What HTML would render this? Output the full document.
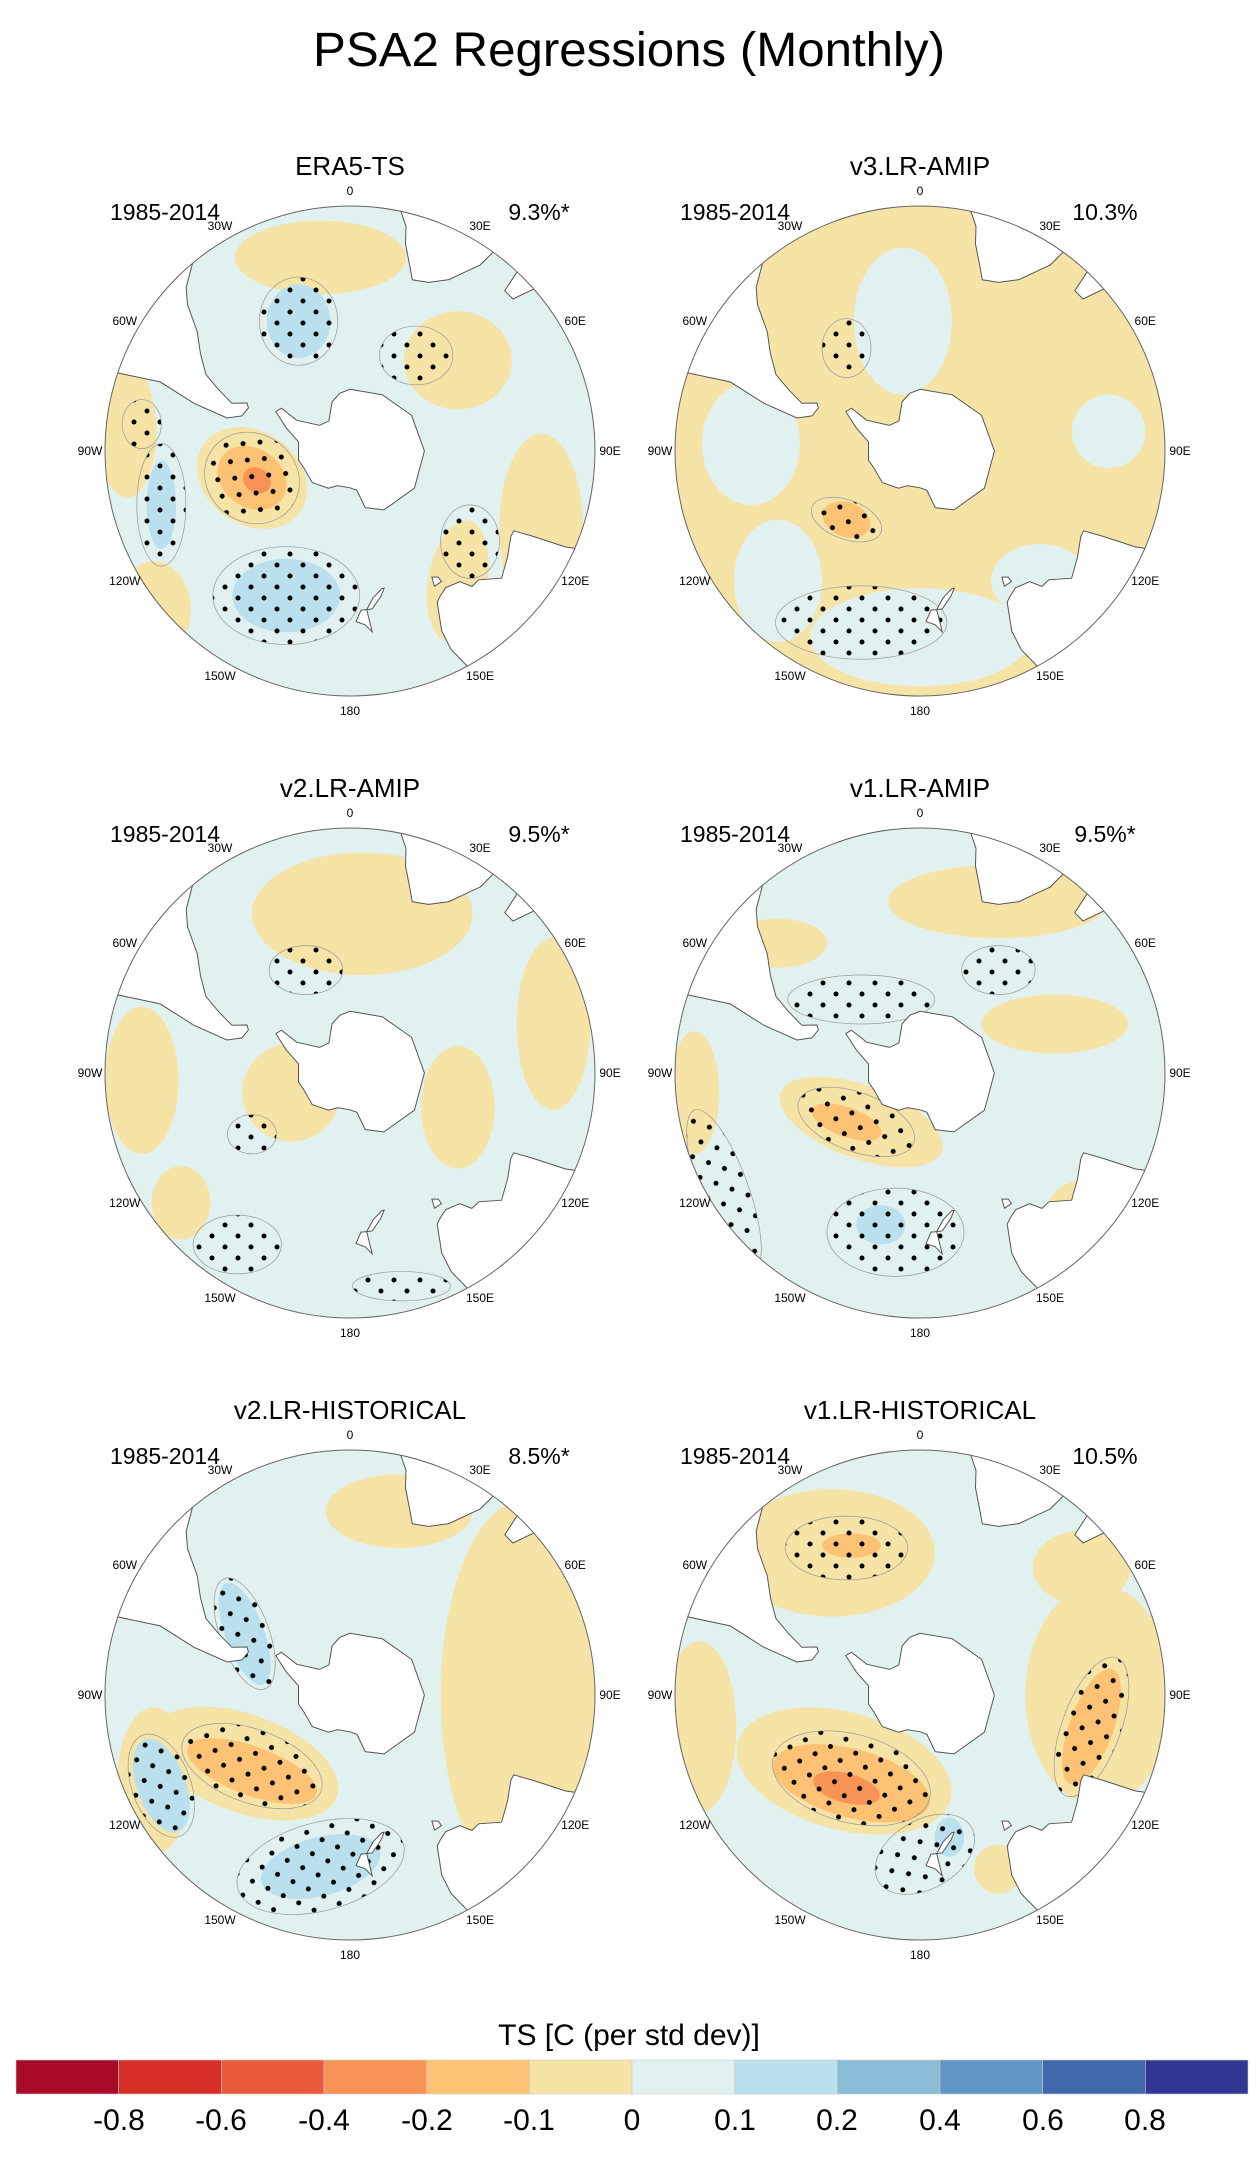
<!DOCTYPE html>
<html><head><meta charset="utf-8"><style>
html,body{margin:0;padding:0;background:#fff}
svg{display:block;font-family:"Liberation Sans",sans-serif}
</style></head><body>
<svg id="fig" width="1258" height="2162" viewBox="0 0 1258 2162" xmlns="http://www.w3.org/2000/svg">
<defs>
<pattern id="stip" width="26" height="22" patternUnits="userSpaceOnUse">
<circle cx="4" cy="4" r="2.5" fill="#000"/><circle cx="17" cy="15" r="2.5" fill="#000"/>
</pattern>
</defs>
<text x="629" y="66" text-anchor="middle" font-size="48" textLength="632" lengthAdjust="spacingAndGlyphs">PSA2 Regressions (Monthly)</text>

<g id="maps"></g>

<g font-size="26" text-anchor="middle">
<text x="350" y="175">ERA5-TS</text>
<text x="920" y="175">v3.LR-AMIP</text>
<text x="350" y="797">v2.LR-AMIP</text>
<text x="920" y="797">v1.LR-AMIP</text>
<text x="350" y="1419">v2.LR-HISTORICAL</text>
<text x="920" y="1419">v1.LR-HISTORICAL</text>
</g>
<g font-size="23" text-anchor="middle">
<text x="165" y="220">1985-2014</text><text x="735" y="220">1985-2014</text>
<text x="165" y="842">1985-2014</text><text x="735" y="842">1985-2014</text>
<text x="165" y="1464">1985-2014</text><text x="735" y="1464">1985-2014</text>
</g>
<g font-size="23" text-anchor="middle">
<text x="539" y="220">9.3%*</text><text x="1105" y="220">10.3%</text>
<text x="539" y="842">9.5%*</text><text x="1105" y="842">9.5%*</text>
<text x="539" y="1464">8.5%*</text><text x="1105" y="1464">10.5%</text>
</g>

<g id="lonlab" font-size="12" text-anchor="middle"></g>

<text x="629" y="2045" text-anchor="middle" font-size="30">TS [C (per std dev)]</text>
<g id="cbar"></g>
<g font-size="30" text-anchor="middle">
<text x="119" y="2130">-0.8</text><text x="221" y="2130">-0.6</text><text x="324" y="2130">-0.4</text>
<text x="427" y="2130">-0.2</text><text x="529" y="2130">-0.1</text><text x="632" y="2130">0</text>
<text x="735" y="2130">0.1</text><text x="837" y="2130">0.2</text><text x="940" y="2130">0.4</text>
<text x="1043" y="2130">0.6</text><text x="1145" y="2130">0.8</text>
</g>
</svg>
<script>
const levels = ["#a90a27","#d73027","#ec5a3c","#f89356","#fdc274","#f6e3a6","#e1f1ef","#b9e0ec","#8bbdd9","#6095c4","#4068ad","#333793"];
const lonTicks = [0,30,60,90,120,150,180,-150,-120,-90,-60,-30];
const lonNames = ["0","30E","60E","90E","120E","150E","180","150W","120W","90W","60W","30W"];
const panelCenters = [[350,451],[920,451],[350,1073],[920,1073],[350,1695],[920,1695]];
const panelBase = [6,5,6,6,6,6];
// blobs: [u, v, rx, ry, level, rot] (u,v,rx,ry in units of map radius)
const era5Blobs = [[-0.12,-0.79,0.35,0.15,5,0],[0.44,-0.37,0.22,0.2,5,0],[0.78,0.31,0.17,0.38,5,0],[0.44,0.53,0.12,0.25,5,10],[-0.91,-0.08,0.12,0.27,5,0],[-0.8,0.65,0.15,0.2,5,0],[-0.4,0.11,0.24,0.19,5,35],[-0.4,0.11,0.15,0.12,4,35],[-0.38,0.12,0.06,0.05,3,35],[-0.21,-0.53,0.13,0.15,7,0],[-0.77,0.22,0.06,0.18,7,0],[-0.26,0.59,0.22,0.15,7,0]];
const era5Stip = [[-0.21,-0.53,0.16,0.18,0],[-0.4,0.11,0.2,0.18,35],[-0.77,0.22,0.1,0.25,0],[-0.26,0.59,0.3,0.2,0],[0.49,0.37,0.12,0.15,0],[-0.85,-0.11,0.08,0.1,0],[0.27,-0.39,0.15,0.12,0]];
const v3Blobs = [[-0.07,-0.53,0.2,0.3,6,0],[-0.69,-0.03,0.2,0.25,6,0],[0,0.76,0.45,0.2,6,0],[0.49,0.53,0.2,0.15,6,0],[-0.58,0.53,0.18,0.25,6,0],[0.77,-0.08,0.15,0.15,6,0],[-0.3,0.28,0.1,0.07,4,20]];
const v3Stip = [[-0.24,0.7,0.35,0.15,0],[-0.3,0.28,0.15,0.08,20],[-0.3,-0.42,0.1,0.12,0]];
const v2aBlobs = [[0.05,-0.65,0.45,0.25,5,0],[-0.85,0.03,0.15,0.3,5,0],[0.83,-0.2,0.15,0.35,5,0],[-0.24,0.08,0.2,0.2,5,0],[-0.69,0.53,0.12,0.15,5,0],[0.44,0.14,0.15,0.25,5,0]];
const v2aStip = [[-0.46,0.7,0.18,0.12,0],[-0.18,-0.42,0.15,0.1,0],[-0.4,0.25,0.1,0.08,0],[0.21,0.87,0.2,0.06,0]];
const v1aBlobs = [[0.32,-0.7,0.45,0.15,5,0],[0.55,-0.2,0.3,0.12,5,0],[-0.58,-0.53,0.2,0.1,5,0],[-0.24,0.2,0.35,0.15,5,20],[0.66,0.59,0.15,0.15,5,0],[-0.92,0.08,0.1,0.25,5,0],[-0.3,0.2,0.15,0.06,4,20],[-0.16,0.62,0.1,0.08,7,0]];
const v1aStip = [[-0.26,0.2,0.25,0.12,20],[-0.1,0.65,0.28,0.18,0],[-0.8,0.48,0.1,0.35,-20],[-0.24,-0.3,0.3,0.1,0],[0.32,-0.42,0.15,0.1,0]];
const v2hBlobs = [[0.72,0.0,0.35,0.8,5,0],[0.2,-0.75,0.3,0.15,5,0],[-0.8,0.35,0.15,0.3,5,0],[-0.43,0.28,0.4,0.2,5,20],[-0.4,0.31,0.28,0.1,4,20],[-0.77,0.37,0.1,0.2,7,-20],[-0.12,0.7,0.25,0.12,7,-15],[-0.43,-0.25,0.08,0.22,7,-20]];
const v2hStip = [[-0.4,0.29,0.3,0.15,20],[-0.77,0.37,0.12,0.22,-20],[-0.12,0.7,0.35,0.18,-15],[-0.43,-0.25,0.1,0.24,-20]];
const v1hBlobs = [[-0.36,-0.58,0.42,0.26,5,0],[0.73,0.0,0.3,0.45,5,0],[0.66,-0.52,0.2,0.15,5,0],[-0.31,0.31,0.45,0.24,5,15],[-0.9,0.13,0.15,0.35,5,0],[0.32,0.71,0.1,0.1,5,0],[-0.28,-0.61,0.12,0.05,4,0],[0.7,0.13,0.09,0.25,4,20],[-0.28,0.36,0.33,0.14,4,15],[-0.3,0.38,0.14,0.06,3,15],[0.12,0.58,0.06,0.08,7,0]];
const v1hStip = [[-0.3,-0.6,0.25,0.13,0],[0.7,0.13,0.12,0.3,20],[-0.28,0.34,0.33,0.18,15],[0.02,0.65,0.22,0.14,-30]];
const allBlobs = [era5Blobs,v3Blobs,v2aBlobs,v1aBlobs,v2hBlobs,v1hBlobs];
const allStip = [era5Stip,v3Stip,v2aStip,v1aStip,v2hStip,v1hStip];
const antarctica = [[0,-70],[30,-69],[60,-67],[90,-66],[120,-66],[150,-68],[165,-71],[170,-77],[180,-78],[-160,-78],[-150,-76],[-130,-74],[-110,-74],[-100,-73],[-80,-73],[-70,-68],[-62,-63],[-58,-64],[-60,-70],[-50,-77],[-35,-78],[-20,-73],[-10,-71]];
const southAmerica = [[-72,-15],[-70,-30],[-73,-40],[-75,-50],[-72,-54],[-67,-55],[-65,-54],[-68,-50],[-65,-45],[-62,-40],[-57,-36],[-52,-32],[-48,-26],[-45,-23],[-40,-20],[-38,-12]];
const africa = [[10,-12],[12,-20],[14,-23],[15,-27],[18,-32],[20,-35],[25,-34],[30,-31],[33,-27],[35,-24],[37,-12]];
const madagascar = [[43,-20],[44,-25],[47,-25],[50,-15],[47,-14]];
const australia = [[112,-15],[114,-22],[115,-30],[116,-35],[118,-35],[124,-33],[130,-31],[135,-35],[138,-35],[140,-38],[145,-39],[148,-38],[150,-37],[153,-30],[153,-25],[150,-15]];
const nzNorth = [[173,-35],[175,-37],[178,-38],[176,-41],[174,-41]];
const nzSouth = [[172,-41],[174,-41],[171,-44],[167,-46],[166,-46],[168,-44]];
const tasmania = [[145,-41],[148,-41],[147,-43.5],[145,-42.5]];
const lands = [antarctica,southAmerica,africa,madagascar,australia,nzNorth,nzSouth,tasmania];

const NS = "http://www.w3.org/2000/svg";
const R = 245, K = R/Math.tan(35*Math.PI/180);
function proj(lon,lat,cx,cy){const r=K*Math.tan((90+lat)/2*Math.PI/180);const a=lon*Math.PI/180;return [cx+r*Math.sin(a),cy-r*Math.cos(a)];}
function mk(tag,attrs,parent){const e=document.createElementNS(NS,tag);for(const k in attrs)e.setAttribute(k,attrs[k]);parent.appendChild(e);return e;}
const maps=document.getElementById('maps');
const ll=document.getElementById('lonlab');
panelCenters.forEach((c,i)=>{
  const [cx,cy]=c;
  const cp=mk('clipPath',{id:'clip'+i},maps);mk('circle',{cx:cx,cy:cy,r:R},cp);
  const g=mk('g',{'clip-path':'url(#clip'+i+')'},maps);
  
  
  mk('rect',{x:cx-R,y:cy-R,width:2*R,height:2*R,fill:levels[panelBase[i]]},g);
  allBlobs[i].forEach(b=>{
    const e=mk('ellipse',{cx:cx+b[0]*R,cy:cy+b[1]*R,rx:b[2]*R,ry:b[3]*R,fill:levels[b[4]],transform:`rotate(${b[5]} ${cx+b[0]*R} ${cy+b[1]*R})`},g);
    
    
  });
  allStip[i].forEach(s=>{
    const e=mk('ellipse',{cx:cx+s[0]*R,cy:cy+s[1]*R,rx:s[2]*R,ry:s[3]*R,fill:'url(#stip)',stroke:'#999','stroke-width':0.7,transform:`rotate(${s[4]} ${cx+s[0]*R} ${cy+s[1]*R})`},g);
    
    
  });
  lands.forEach(p=>{
    const pts=p.map(q=>proj(q[0],q[1],cx,cy).map(v=>v.toFixed(1)).join(',')).join(' ');
    const e=mk('polygon',{points:pts,fill:'#fff',stroke:'#555','stroke-width':1},g);
    
    
  });
  const o=mk('circle',{cx:cx,cy:cy,r:R,fill:'none',stroke:'#666','stroke-width':1},maps);
  
  
  lonTicks.forEach((L,j)=>{
    const a=L*Math.PI/180;
    const t=mk('text',{x:(cx+260*Math.sin(a)).toFixed(1),y:(cy-260*Math.cos(a)+4).toFixed(1)},ll);
    t.textContent=lonNames[j];
    
    
  });
});
const cb=document.getElementById('cbar');
levels.forEach((col,i)=>{
  const w=(1248-16)/12;
  const r=mk('rect',{x:16+i*w,y:2060,width:w,height:34,fill:col,stroke:'#ccc','stroke-width':0.6},cb);
  
  
});
</script>
</body></html>
